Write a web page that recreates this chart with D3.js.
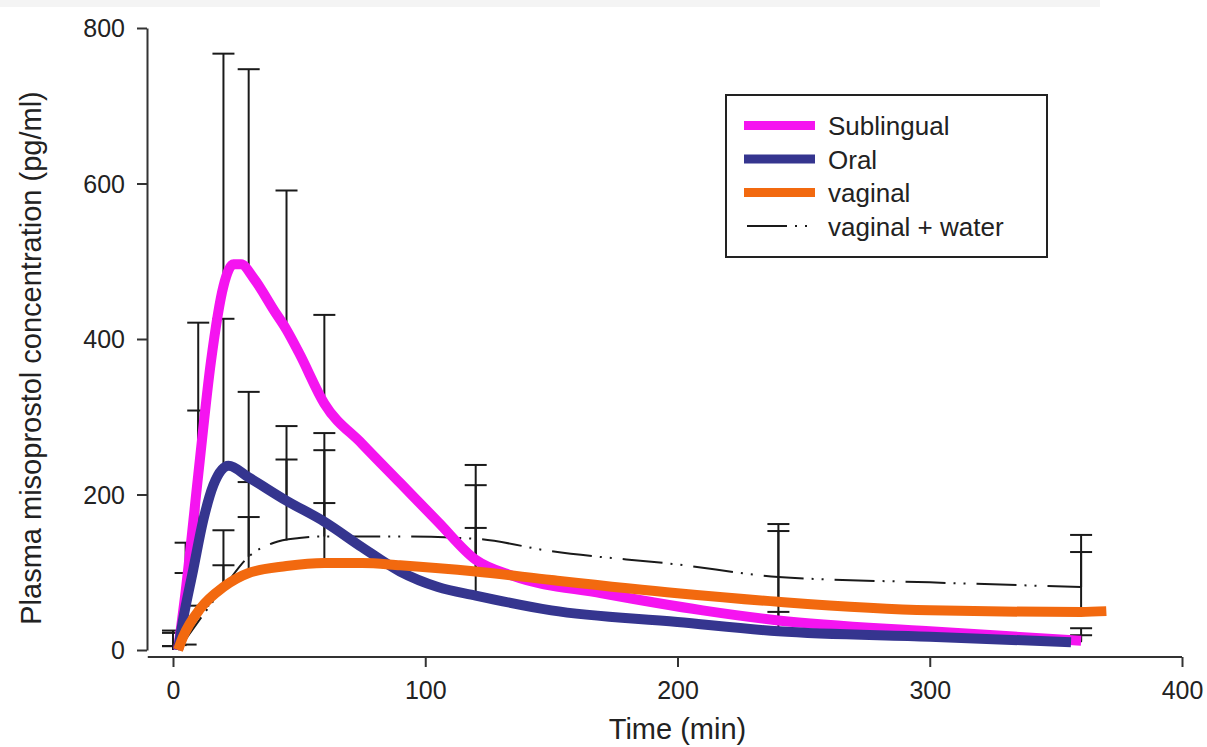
<!DOCTYPE html>
<html>
<head>
<meta charset="utf-8">
<script src="https://cdn.jsdelivr.net/npm/d3@7.9.0/dist/d3.min.js"></script>
<style>
  body { margin: 0; background: #fff; }
  svg { display: block; font-family: "Liberation Sans", Arial, sans-serif; }
</style>
</head>
<body>
<svg id="chart" width="1207" height="747"></svg>
<script>
// fitted curves (time in min, concentration in pg/ml)
const subTimes = [2, 5, 10, 15, 20, 24, 27, 32, 40, 45, 50, 60, 75, 90, 105, 120, 135, 170, 210, 240, 300, 360];
const subVals  = [0, 75, 225, 370, 468, 496, 496, 478, 437, 412, 382, 317, 265, 215, 165, 116, 95, 73, 51, 38, 24, 12];

const oralTimes = [2, 4, 8, 12, 16, 22, 30, 45, 60, 75, 90, 105, 120, 150, 200, 240, 300, 356];
const oralVals  = [0, 39, 103, 167, 212, 237, 222, 192, 165, 132, 101, 81, 70, 51, 36, 24, 17, 10];

const vagTimes = [2, 4, 11, 20, 30, 45, 60, 75, 90, 120, 150, 200, 240, 300, 360, 370];
const vagVals  = [0, 17, 54, 81, 99, 108, 112, 112, 109, 101, 90, 73, 62, 51, 49, 50];

const waterTimes = [2, 20, 30, 40, 50, 60, 90, 120, 150, 200, 240, 300, 360];
const waterVals  = [0, 80, 120, 138, 144, 146, 146, 143, 127, 110, 94, 87, 81];

// error bars: sampling times, mean and mean + SD for each route
const barTimes = [0, 5, 10, 20, 30, 45, 60, 120, 240, 360];
const subMean   = [0, 75, 225, 468, 487, 412, 317, 116, 38, 12];
const subTop    = [5, 138, 421, 767, 747, 591, 431, 238, 162, 28];
const oralMean  = [0, 45, 120, 236, 222, 192, 165, 70, 24, 10];
const oralTop   = [25, 99, 308, 426, 332, 288, 279, 212, 49, 19];
const vagMean   = [0, 25, 54, 81, 99, 108, 112, 101, 62, 49];
const vagTop    = [22, null, 57, 109, 171, null, 189, 157, 153, 126];
const waterMean = [0, 5, 35, 80, 120, 141, 146, 143, 94, 81];
const waterTop  = [5, 7, null, 154, 216, 245, 257, null, null, 148];

const xTicks = [0, 100, 200, 300, 400];
const yTicks = [0, 200, 400, 600, 800];

const legendLabels = ['Sublingual', 'Oral', 'vaginal', 'vaginal + water'];
const colors = ['#f514f0', '#35358f', '#f2690f', '#1a1a1a'];
const dashPattern = '40,8,2,8,2,11';

const svg = d3.select('#chart');

const x = d3.scaleLinear().domain([0, 400]).range([173, 1182]);
const y = d3.scaleLinear().domain([0, 800]).range([650, 28]);

// faint strip along the top edge of the scan
svg.append('rect').attr('x', 0).attr('y', 0).attr('width', 1100).attr('height', 7).attr('fill', '#f4f4f4');

// axes
const yAxis = svg.append('g')
  .attr('transform', 'translate(147,0)')
  .call(d3.axisLeft(y).tickValues(yTicks).tickSize(10).tickSizeOuter(0).tickPadding(12));
const xAxis = svg.append('g')
  .attr('transform', 'translate(0,657)')
  .call(d3.axisBottom(x).tickValues(xTicks).tickSize(10).tickSizeOuter(0).tickPadding(14));
xAxis.select('.domain').remove();
xAxis.append('line')
  .attr('x1', x(-10)).attr('x2', x(400))
  .attr('stroke', '#333').attr('stroke-width', 2);

[xAxis, yAxis].forEach((g) => {
  g.selectAll('.domain').attr('stroke', '#333').attr('stroke-width', 2);
  g.selectAll('.tick line').attr('stroke', '#333').attr('stroke-width', 2);
  g.selectAll('.tick text').attr('font-size', 25).attr('fill', '#222')
    .attr('font-family', '"Liberation Sans", Arial, sans-serif');
});
yAxis.selectAll('.tick text').attr('dy', '0.34em');

// axis titles
svg.append('text')
  .attr('x', x(200)).attr('y', 739)
  .attr('text-anchor', 'middle')
  .attr('font-size', 29).attr('fill', '#222')
  .text('Time (min)');
svg.append('text')
  .attr('transform', 'translate(41,358) rotate(-90)')
  .attr('text-anchor', 'middle')
  .attr('font-size', 29).attr('fill', '#222')
  .text('Plasma misoprostol concentration (pg/ml)');

// error bars (drawn under the curves)
const bars = [
  [subMean, subTop], [oralMean, oralTop], [vagMean, vagTop], [waterMean, waterTop]
];
const barG = svg.append('g').attr('stroke', '#1a1a1a').attr('stroke-width', 2);
bars.forEach(([means, tops]) => {
  barTimes.forEach((t, i) => {
    if (tops[i] == null) return;
    barG.append('line')
      .attr('x1', x(t)).attr('x2', x(t))
      .attr('y1', y(means[i])).attr('y2', y(tops[i]));
    barG.append('line')
      .attr('x1', x(t) - 11).attr('x2', x(t) + 11)
      .attr('y1', y(tops[i])).attr('y2', y(tops[i]));
  });
});

// curves
const line = d3.line()
  .x((d) => x(d[0]))
  .y((d) => y(d[1]))
  .curve(d3.curveMonotoneX);

svg.append('path')
  .attr('d', line(d3.zip(waterTimes, waterVals)))
  .attr('fill', 'none').attr('stroke', colors[3]).attr('stroke-width', 2)
  .attr('stroke-dasharray', dashPattern);

const thick = [
  [subTimes, subVals, colors[0]],
  [oralTimes, oralVals, colors[1]],
  [vagTimes, vagVals, colors[2]]
];
thick.forEach(([ts, vs, c]) => {
  svg.append('path')
    .attr('d', line(d3.zip(ts, vs)))
    .attr('fill', 'none').attr('stroke', c).attr('stroke-width', 10)
    .attr('stroke-linejoin', 'round').attr('stroke-linecap', 'butt');
});

// legend
const legend = svg.append('g');
legend.append('rect')
  .attr('x', 726).attr('y', 95).attr('width', 321).attr('height', 162)
  .attr('fill', '#fff').attr('stroke', '#222').attr('stroke-width', 2);
legendLabels.forEach((label, i) => {
  const ly = 125.5 + i * 33.5;
  const isThin = i === 3;
  legend.append('line')
    .attr('x1', isThin ? 747 : 744).attr('x2', 815)
    .attr('y1', ly).attr('y2', ly)
    .attr('stroke', colors[i])
    .attr('stroke-width', isThin ? 2 : 9)
    .attr('stroke-dasharray', isThin ? dashPattern : null);
  legend.append('text')
    .attr('x', 828).attr('y', ly + 9.5)
    .attr('font-size', 26).attr('fill', '#222')
    .text(label);
});
</script>
</body>
</html>
